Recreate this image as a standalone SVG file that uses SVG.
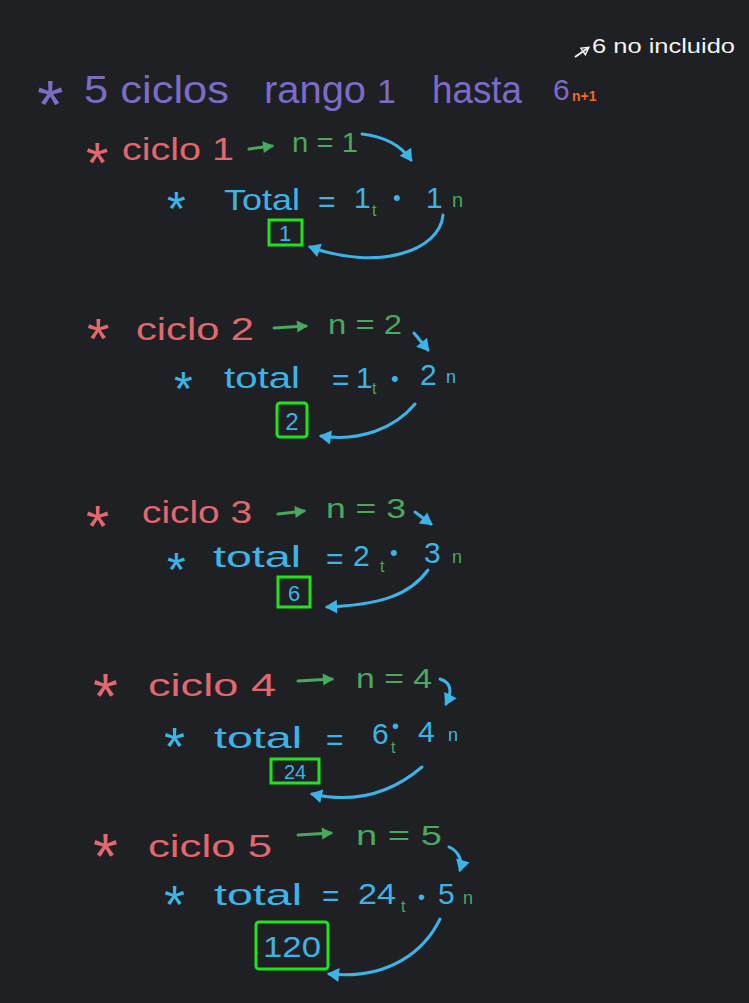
<svg xmlns="http://www.w3.org/2000/svg" width="749" height="1003" viewBox="0 0 749 1003">
<defs>
<marker id="mg" markerUnits="userSpaceOnUse" markerWidth="14" markerHeight="14" refX="10" refY="7" orient="auto"><path d="M1 1 L12 7 L1 13 Z" fill="#4aa85f"/></marker>
<marker id="mb" markerUnits="userSpaceOnUse" markerWidth="16" markerHeight="16" refX="11" refY="8" orient="auto"><path d="M1 1 L13 8 L1 15 Z" fill="#3db4e8"/></marker>
<marker id="mw" markerUnits="userSpaceOnUse" markerWidth="10" markerHeight="10" refX="7" refY="5" orient="auto"><path d="M1 1 L8 5 L1 9 Z" fill="none" stroke="#f4f4f4" stroke-width="1.5"/></marker>
</defs>
<style>
text{font-family:"Liberation Sans","DejaVu Sans",sans-serif}
.pu{fill:#7b6cc8}.pk{fill:#e2676e}.gr{fill:#4aa85f}.bl{fill:#3db4e8}.or{fill:#f06a2c}.wh{fill:#f4f4f4}
.ga{stroke:#4aa85f;stroke-width:3;fill:none;stroke-linecap:round;marker-end:url(#mg)}
.ba{stroke:#3db4e8;stroke-width:3;fill:none;stroke-linecap:round;marker-end:url(#mb)}
.box{fill:none;stroke:#1fe31f;stroke-width:3}
.h{font-size:32px}.t{font-size:30px}.s{font-size:16px}
</style>
<rect width="749" height="1003" fill="#1f2023"/>

<g id="title">
<text class="pu" x="37" y="128" font-size="68">*</text>
<text class="pu" x="84" y="103" font-size="38" textLength="145" lengthAdjust="spacingAndGlyphs">5 ciclos</text>
<text class="pu" x="264" y="103" font-size="38" textLength="102" lengthAdjust="spacingAndGlyphs">rango</text>
<text class="pu" x="377" y="103" font-size="34">1</text>
<text class="pu" x="432" y="103" font-size="38" textLength="90" lengthAdjust="spacingAndGlyphs">hasta</text>
<text class="pu" x="553" y="100" font-size="30">6</text>
<text class="or" x="572" y="101" font-size="14" font-weight="bold">n+1</text>
<path d="M575 57 L588 48" stroke="#f4f4f4" stroke-width="2" fill="none" marker-end="url(#mw)"/>
<text class="wh" x="592" y="53" font-size="20" textLength="143" lengthAdjust="spacingAndGlyphs">6 no incluido</text>
</g>

<g id="ciclo1">
<text class="pk" x="86" y="183" font-size="58">*</text>
<text class="pk h" x="122" y="160" textLength="112" lengthAdjust="spacingAndGlyphs">ciclo 1</text>
<text class="gr" x="292" y="152" font-size="28" textLength="66" lengthAdjust="spacingAndGlyphs">n = 1</text>
<text class="bl" x="167" y="225" font-size="48">*</text>
<text class="bl t" x="224" y="210" textLength="76" lengthAdjust="spacingAndGlyphs">Total</text>
<text class="bl t" x="318" y="212">=</text>
<text class="bl t" x="354" y="208">1</text>
<text class="gr s" x="372" y="216">t</text>
<text class="bl" x="393" y="205" font-size="22">•</text>
<text class="bl t" x="426" y="208">1</text>
<text class="gr" x="452" y="207" font-size="20">n</text>
<rect class="box" x="269" y="220" width="33" height="25"/>
<text class="bl" x="285" y="241" font-size="22" text-anchor="middle">1</text>
</g>

<g id="ciclo2">
<text class="pk" x="87" y="359" font-size="58">*</text>
<text class="pk h" x="136" y="340" textLength="118" lengthAdjust="spacingAndGlyphs">ciclo 2</text>
<text class="gr" x="328" y="334" font-size="28" textLength="74" lengthAdjust="spacingAndGlyphs">n = 2</text>
<text class="bl" x="174" y="405" font-size="48">*</text>
<text class="bl t" x="224" y="388" textLength="76" lengthAdjust="spacingAndGlyphs">total</text>
<text class="bl t" x="332" y="390">=</text>
<text class="bl t" x="356" y="388">1</text>
<text class="gr s" x="372" y="394">t</text>
<text class="bl" x="391" y="386" font-size="22">•</text>
<text class="bl t" x="420" y="385">2</text>
<text class="bl" x="446" y="383" font-size="18">n</text>
<rect class="box" x="277" y="403" width="30" height="34" rx="3"/>
<text class="bl" x="292" y="430" font-size="24" text-anchor="middle">2</text>
</g>

<g id="ciclo3">
<text class="pk" x="86" y="547" font-size="60">*</text>
<text class="pk h" x="142" y="523" textLength="110" lengthAdjust="spacingAndGlyphs">ciclo 3</text>
<text class="gr" x="326" y="518" font-size="28" textLength="80" lengthAdjust="spacingAndGlyphs">n = 3</text>
<text class="bl" x="167" y="586" font-size="48">*</text>
<text class="bl t" x="213" y="567" textLength="88" lengthAdjust="spacingAndGlyphs">total</text>
<text class="bl t" x="326" y="569">=</text>
<text class="bl t" x="353" y="566">2</text>
<text class="gr s" x="380" y="572">t</text>
<text class="bl" x="390" y="560" font-size="22">•</text>
<text class="bl t" x="424" y="563">3</text>
<text class="gr" x="452" y="563" font-size="18">n</text>
<rect class="box" x="278" y="577" width="32" height="30"/>
<text class="bl" x="294" y="601" font-size="22" text-anchor="middle">6</text>
</g>

<g id="ciclo4">
<text class="pk" x="93" y="719" font-size="64">*</text>
<text class="pk h" x="148" y="696" textLength="128" lengthAdjust="spacingAndGlyphs">ciclo 4</text>
<text class="gr" x="356" y="688" font-size="28" textLength="76" lengthAdjust="spacingAndGlyphs">n = 4</text>
<text class="bl" x="164" y="765" font-size="54">*</text>
<text class="bl t" x="214" y="748" textLength="88" lengthAdjust="spacingAndGlyphs">total</text>
<text class="bl t" x="326" y="750">=</text>
<text class="bl t" x="372" y="744">6</text>
<text class="gr s" x="391" y="753">t</text>
<text class="bl" x="392" y="733" font-size="20">•</text>
<text class="bl t" x="418" y="742">4</text>
<text class="bl" x="448" y="741" font-size="18">n</text>
<rect class="box" x="271" y="759" width="48" height="24"/>
<text class="bl" x="295" y="779" font-size="20" text-anchor="middle">24</text>
</g>

<g id="ciclo5">
<text class="pk" x="93" y="879" font-size="64">*</text>
<text class="pk h" x="148" y="857" textLength="124" lengthAdjust="spacingAndGlyphs">ciclo 5</text>
<text class="gr" x="356" y="845" font-size="28" textLength="86" lengthAdjust="spacingAndGlyphs">n = 5</text>
<text class="bl" x="164" y="923" font-size="54">*</text>
<text class="bl t" x="214" y="905" textLength="88" lengthAdjust="spacingAndGlyphs">total</text>
<text class="bl t" x="322" y="906">=</text>
<text class="bl t" x="358" y="904" textLength="38" lengthAdjust="spacingAndGlyphs">24</text>
<text class="gr s" x="401" y="912">t</text>
<text class="bl" x="418" y="904" font-size="20">•</text>
<text class="bl t" x="438" y="904">5</text>
<text class="gr" x="463" y="904" font-size="18">n</text>
<rect class="box" x="256" y="922" width="72" height="47" rx="3"/>
<text class="bl" x="292" y="957" font-size="30" text-anchor="middle" textLength="58" lengthAdjust="spacingAndGlyphs">120</text>
</g>

<g id="connectors">
<path class="ga" d="M249 149 L272 146"/>
<path class="ba" d="M362 134 Q396 138 411 160"/>
<path class="ba" d="M443 215 C440 250 380 272 310 247"/>
<path class="ga" d="M274 328 L306 326"/>
<path class="ba" d="M414 333 L428 350"/>
<path class="ba" d="M415 404 C395 428 360 442 321 436"/>
<path class="ga" d="M278 514 L304 511"/>
<path class="ba" d="M415 512 L431 524"/>
<path class="ba" d="M428 570 C410 595 380 605 327 607"/>
<path class="ga" d="M298 681 L332 679"/>
<path class="ba" d="M440 679 C452 683 452 692 446 704"/>
<path class="ga" d="M298 835 L331 833"/>
<path class="ba" d="M449 847 C458 851 463 860 460 870"/>
<path class="ba" d="M422 767 C395 790 360 805 312 794"/>
<path class="ba" d="M440 919 C425 950 390 980 329 974"/>
</g>
</svg>
